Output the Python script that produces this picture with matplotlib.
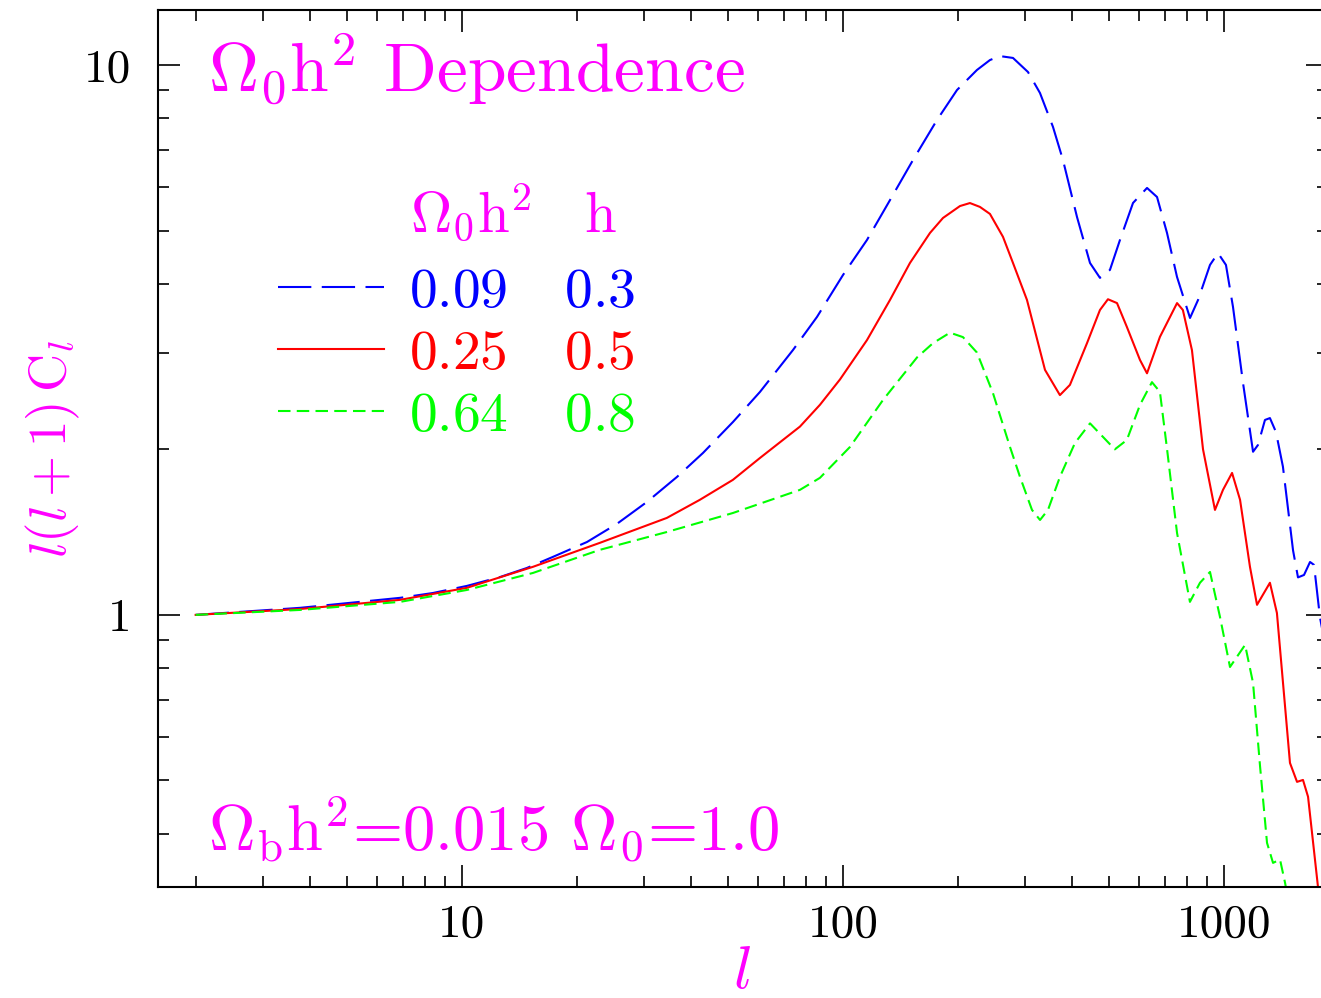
import matplotlib
matplotlib.use("Agg")
import matplotlib.pyplot as plt
from matplotlib.ticker import NullFormatter, LogLocator

plt.rcParams['mathtext.fontset'] = 'cm'
plt.rcParams['font.family'] = ['cmr10', 'DejaVu Serif']
plt.rcParams['axes.formatter.use_mathtext'] = True

# ---- data ----
l_blue = [2.0, 3.76, 6.88, 8.39, 10.3, 12.6, 14.8, 17.33, 21.29, 25.51, 30.59, 36.67, 42.91, 51.44,
          60.56, 73.93, 85.46, 100, 115.6, 132.9, 152.7, 176.5, 199.2, 224.7, 243.1, 258.3, 279.4,
          305.9, 328.9, 355.8, 377.9, 411.4, 445, 472.6, 502, 533.3, 577.1, 628.1, 667.2, 708.7,
          752.8, 814.4, 855, 918.9, 964.5, 1012, 1056, 1122, 1192, 1228, 1281, 1320, 1369, 1428,
          1518, 1564, 1622, 1682, 1723, 1786, 1875]
c_blue = [1.0, 1.03, 1.074, 1.096, 1.129, 1.172, 1.217, 1.275, 1.357, 1.464, 1.605, 1.782, 1.97, 2.243,
          2.544, 3.032, 3.482, 4.15, 4.806, 5.682, 6.719, 7.943, 9.006, 9.793, 10.21, 10.38, 10.30,
          9.711, 8.894, 7.716, 6.719, 5.291, 4.365, 4.101, 4.24, 4.806, 5.612, 5.976, 5.754, 4.95,
          4.118, 3.467, 3.739, 4.329, 4.55, 4.329, 3.631, 2.64, 1.98, 2.037, 2.262, 2.28, 2.151, 1.86,
          1.31, 1.17, 1.182, 1.248, 1.233, 0.99, 0.828]

l_red = [2.0, 3.76, 6.88, 10.3, 15.36, 23.0, 34.5, 42.1, 51.4, 60.6, 77.1, 87.0, 98.2, 115.6, 132.9,
         149.9, 169.2, 183.0, 202.8, 215.4, 228.8, 243.1, 263, 279.4, 304, 339, 371, 394.2, 437, 472.6,
         496, 523.9, 556, 601.9, 628, 679, 753, 780, 824, 881, 947, 994, 1050, 1102, 1170, 1221,
         1320, 1377, 1490, 1555, 1612, 1662, 1765, 1810]
c_red = [1.0, 1.025, 1.065, 1.12, 1.223, 1.352, 1.501, 1.619, 1.76, 1.93, 2.20, 2.41, 2.68, 3.16, 3.74,
         4.365, 4.95, 5.27, 5.54, 5.61, 5.52, 5.36, 4.87, 4.365, 3.74, 2.79, 2.51, 2.62, 3.12, 3.585,
         3.75, 3.69, 3.34, 2.908, 2.75, 3.203, 3.69, 3.585, 3.03, 2.0, 1.552, 1.688, 1.812, 1.619, 1.223, 1.043,
         1.144, 1.008, 0.538, 0.497, 0.501, 0.467, 0.320, 0.268]

l_green = [2.0, 3.76, 6.88, 10.3, 15.36, 23.0, 34.5, 51.4, 77.1, 87.0, 104.3, 127.4, 156.5, 172.3,
           190.9, 206.5, 224.7, 247.6, 274.4, 291.5, 313.4, 329, 345.2, 371, 406.3, 445, 481.3, 517,
           556, 602, 647, 679, 709, 753, 814, 865, 919, 976, 1037, 1136, 1192, 1244, 1297, 1345,
           1403, 1446, 1490]
c_green = [1.0, 1.021, 1.056, 1.11, 1.192, 1.313, 1.415, 1.532, 1.688, 1.775, 2.02, 2.46, 2.94, 3.12,
           3.26, 3.20, 3.0, 2.53, 2.02, 1.782, 1.552, 1.488, 1.552, 1.782, 2.054, 2.23, 2.107, 2.0,
           2.08, 2.41, 2.65, 2.544, 2.0, 1.409, 1.056, 1.144, 1.197, 0.992, 0.804, 0.882, 0.752, 0.529,
           0.385, 0.354, 0.359, 0.326, 0.291]

omega_h2 = ['0.09', '0.25', '0.64']
h_vals = ['0.3', '0.5', '0.8']
colors = ['#0000ff', '#ff0000', '#00ff00']
styles = [(0, (16, 5)), '-', (0, (6, 3))]
xticks = [10, 100, 1000]
xticklabels = ['10', '100', '1000']
yticks = [1, 10]
yticklabels = ['1', '10']
MAG = '#ff00ff'

W, H = 1321, 998
fig = plt.figure(figsize=(W / 100, H / 100), dpi=100)
L, R, T, B = 158, 1328, 10, 887
ax = fig.add_axes([L / W, 1 - B / H, (R - L) / W, (B - T) / H])
ax.set_xscale('log')
ax.set_yscale('log')
ax.set_xlim(1.593, 1875)
ax.set_ylim(0.32, 12.59)

lines = []
for lv, cv, col, ls in zip([l_blue, l_red, l_green], [c_blue, c_red, c_green], colors, styles):
    ln, = ax.plot(lv, cv, color=col, lw=1.5, linestyle=ls)
    lines.append(ln)

for s in ax.spines.values():
    s.set_linewidth(1.5)
ax.tick_params(which='both', direction='in', top=True, right=True, colors='black')
ax.tick_params(which='major', length=15.8, width=1.2, labelsize=34)
ax.tick_params(axis='x', which='major', pad=12)
ax.tick_params(axis='y', which='major', pad=19)
ax.tick_params(which='minor', length=8, width=1.2)
ax.set_xticks(xticks)
ax.set_xticklabels(xticklabels)
ax.set_yticks(yticks)
ax.set_yticklabels(yticklabels)
ax.xaxis.set_minor_locator(LogLocator(base=10, subs=range(2, 10)))
ax.yaxis.set_minor_locator(LogLocator(base=10, subs=range(2, 10)))
ax.xaxis.set_minor_formatter(NullFormatter())
ax.yaxis.set_minor_formatter(NullFormatter())

ax.set_xlabel(r'$l$', color=MAG, fontsize=44)
ax.xaxis.set_label_coords((742 - L) / (R - L), -(945 - B) / (B - T))
ax.set_ylabel(r'$l(l+1)\,\mathrm{C}_l$', color=MAG, fontsize=38)
ax.yaxis.set_label_coords(-(L - 82) / (R - L), 0.5)

ax.text((208 - L) / (R - L), (B - 92) / (B - T), r'$\Omega_0\mathrm{h}^2$ Dependence', color=MAG,
        fontsize=50, transform=ax.transAxes, va='baseline', ha='left')
ax.text((208 - L) / (R - L), (B - 852) / (B - T), r'$\Omega_\mathrm{b}\mathrm{h}^2$=0.015 $\Omega_0$=1.0',
        color=MAG, fontsize=46.5, transform=ax.transAxes, va='baseline', ha='left')
ax.text((410 - L) / (R - L), (B - 232) / (B - T), r'$\Omega_0\mathrm{h}^2\quad\mathrm{h}$', color=MAG,
        fontsize=41, transform=ax.transAxes, va='baseline', ha='left')

labels = [r'$%s\quad\,%s$' % (o, h) for o, h in zip(omega_h2, h_vals)]
leg = ax.legend(lines, labels, loc='upper left',
                bbox_to_anchor=((278 - L) / (R - L), (B - 268) / (B - T)),
                frameon=False, fontsize=40, handlelength=1.9, handletextpad=0.45,
                borderpad=0, borderaxespad=0, labelspacing=0.215, labelcolor='linecolor')

fig.savefig('out.png', dpi=100)
